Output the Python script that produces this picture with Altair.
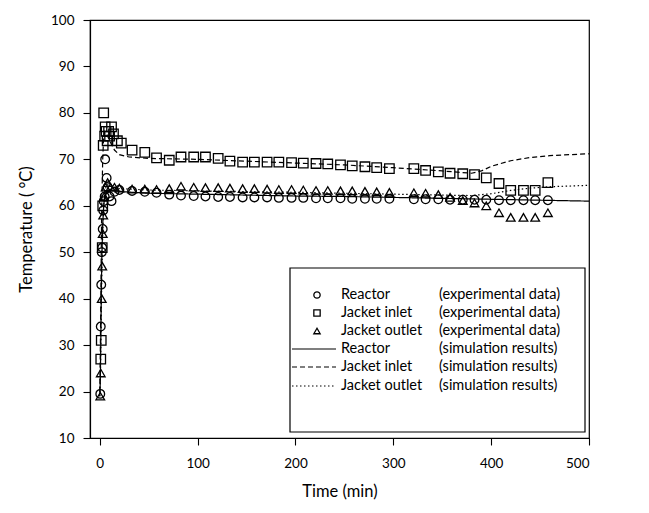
import altair as alt
import pandas as pd

# ---------------- data ----------------
# Reactor (experimental data) - circles
reactor_t = [0.5, 1, 1.5, 2, 2.5, 3, 3.5, 4, 5, 5.5, 7, 8, 10, 12, 15, 20, 33, 46, 58, 71, 83,
             96, 108, 121, 133, 146, 158, 171, 183, 196, 208, 221, 233, 246, 258, 271, 283,
             296, 321, 333, 346, 358, 371, 383, 395, 408, 420, 433, 445, 458]
reactor_T = [19.5, 34, 43, 50, 51, 55, 59, 61, 62, 70, 66, 64, 62, 61, 63, 63.4, 63.2, 63, 62.8,
             62.4, 62.2, 62.1, 62.0, 61.9, 61.9, 61.8, 61.8, 61.8, 61.7, 61.7, 61.7, 61.6, 61.6,
             61.6, 61.5, 61.5, 61.5, 61.5, 61.4, 61.4, 61.4, 61.3, 61.3, 61.3, 61.3, 61.2,
             61.2, 61.2, 61.2, 61.2]

# Jacket inlet (experimental data) - squares
inlet_t = [1, 1.5, 2.5, 3, 3.5, 4, 5, 5.5, 6.5, 7.5, 9, 10, 12, 14, 18, 22, 33, 46, 58, 71, 83,
           96, 108, 121, 133, 146, 158, 171, 183, 196, 208, 221, 233, 246, 258, 271, 283,
           296, 321, 333, 346, 358, 371, 383, 395, 408, 420, 433, 445, 458]
inlet_T = [27, 31, 51, 60, 73, 80, 75, 77, 76, 74, 76, 75, 77, 75.5, 74, 73.5, 72, 71.5, 70.3,
           69.8, 70.5, 70.5, 70.5, 70.2, 69.6, 69.4, 69.4, 69.4, 69.4, 69.3, 69.2, 69.1, 69,
           68.8, 68.6, 68.4, 68.2, 68, 68, 67.6, 67.3, 67, 66.9, 66.7, 66, 64.8, 63.3, 63.3,
           63.3, 65]

# Jacket outlet (experimental data) - triangles
outlet_t = [0.5, 1, 2, 2.5, 3, 3.5, 4.5, 6, 8, 11, 15, 20, 33, 46, 58, 71, 83, 96, 108, 121,
            133, 146, 158, 171, 183, 196, 208, 221, 233, 246, 258, 271, 283, 296, 321, 333,
            346, 358, 371, 383, 395, 408, 420, 433, 445, 458]
outlet_T = [19, 24, 40, 47, 54, 58, 62, 64, 65, 64, 64, 63.8, 63.6, 63.6, 63.5, 63.7, 64.2, 64,
            63.9, 63.9, 63.8, 63.7, 63.7, 63.6, 63.5, 63.5, 63.4, 63.3, 63.3, 63.2, 63.2, 63.1,
            63.0, 62.9, 62.8, 62.7, 62.4, 61.8, 61.1, 60.6, 60, 58.5, 57.5, 57.5, 57.5, 58.5]

# Simulation results
sim_reactor_t = [0, 0.5, 1, 1.5, 2, 3, 4, 5, 7, 10, 15, 25, 50, 100, 150, 200, 250, 300, 350,
                 400, 450, 500]
sim_reactor_T = [19, 22, 30, 40, 48, 56, 60, 62, 63.2, 63.5, 63.3, 63, 62.7, 62.5, 62.3, 62.1,
                 62, 61.8, 61.6, 61.4, 61.2, 61]

sim_inlet_t = [0, 0.5, 1, 1.5, 2, 3, 4, 5, 7, 10, 15, 20, 30, 50, 100, 150, 200, 250, 300,
               350, 380, 390, 400, 420, 440, 460, 480, 500]
sim_inlet_T = [20, 28, 38, 50, 60, 70, 75, 76, 75.5, 74, 72, 71, 70.5, 70.2, 70, 69.6, 69.2,
               68.8, 68.2, 67.5, 67, 67.5, 68.5, 69.7, 70.4, 70.8, 71, 71.2]

sim_outlet_t = [0, 0.5, 1, 1.5, 2, 3, 4, 5, 7, 10, 15, 20, 50, 100, 200, 300, 350, 380, 400,
                420, 440, 460, 500]
sim_outlet_T = [19, 22, 28, 36, 44, 54, 60, 63, 64.5, 64.5, 64, 63.7, 63.4, 63.2, 62.9, 62.5,
                62.3, 62.2, 62.6, 63.3, 63.8, 64.1, 64.4]

x_ticks = [0, 100, 200, 300, 400, 500]
y_ticks = [10, 20, 30, 40, 50, 60, 70, 80, 90, 100]

legend_names = ["Reactor", "Jacket inlet", "Jacket outlet",
                "Reactor", "Jacket inlet", "Jacket outlet"]
legend_descs = ["(experimental data)", "(experimental data)", "(experimental data)",
                "(simulation results)", "(simulation results)", "(simulation results)"]
legend_shapes = ["circle", "square", "triangle-up"]
legend_dashes = [[1, 0], [5, 3], [1.5, 2.5]]

# ---------------- chart ----------------
FONT = "Lato"
W, H = 499, 418

xs = alt.Scale(domain=[-10, 500], nice=False, zero=False)
ys = alt.Scale(domain=[10, 100], nice=False, zero=False)

X = alt.X("t:Q", scale=xs,
          axis=alt.Axis(values=x_ticks, title="Time (min)", format="d",
                        labelPadding=11, titlePadding=14))
Y = alt.Y("T:Q", scale=ys,
          axis=alt.Axis(values=y_ticks, title="Temperature ( °C)", format="d",
                        labelPadding=9, titlePadding=16))


def df(t, T):
    return pd.DataFrame({"t": t, "T": T})


layers = []
for t, T, dash in [(sim_reactor_t, sim_reactor_T, legend_dashes[0]),
                   (sim_inlet_t, sim_inlet_T, legend_dashes[1]),
                   (sim_outlet_t, sim_outlet_T, legend_dashes[2])]:
    layers.append(alt.Chart(df(t, T)).mark_line(color="black", strokeWidth=1.2,
                                                strokeDash=dash).encode(x=X, y=Y))

for t, T, shp, size in [(reactor_t, reactor_T, "circle", 75),
                        (inlet_t, inlet_T, "square", 90),
                        (outlet_t, outlet_T, "triangle-up", 75)]:
    layers.append(alt.Chart(df(t, T)).mark_point(shape=shp, filled=False, color="black",
                                                 size=size, strokeWidth=1.3,
                                                 opacity=1).encode(x=X, y=Y))

# ---- legend box (pixel layout inside plot area) ----
dummy = pd.DataFrame({"k": [0]})
L, R, TOP, BOT = 200, 495, 248, 412
row_y = [275, 293, 311, 329, 347, 366]
layers.append(alt.Chart(dummy).mark_rect(fill="white", stroke="black", strokeWidth=1.2).encode(
    x=alt.value(L), x2=alt.value(R), y=alt.value(TOP), y2=alt.value(BOT)))

for i in range(3):
    layers.append(alt.Chart(dummy).mark_point(shape=legend_shapes[i], filled=False,
                                              color="black", size=40, strokeWidth=1.3,
                                              opacity=1).encode(
        x=alt.value(227), y=alt.value(row_y[i])))
for i in range(3):
    layers.append(alt.Chart(dummy).mark_rule(color="black", strokeWidth=1.1,
                                             strokeDash=legend_dashes[i]).encode(
        x=alt.value(L + 2), x2=alt.value(246), y=alt.value(row_y[3 + i])))

for i in range(6):
    layers.append(alt.Chart(dummy).mark_text(text=legend_names[i], align="left",
                                             baseline="middle", font=FONT, fontSize=14.5,
                                             color="black").encode(
        x=alt.value(251), y=alt.value(row_y[i])))
    layers.append(alt.Chart(dummy).mark_text(text=legend_descs[i], align="left",
                                             baseline="middle", font=FONT, fontSize=14.5,
                                             color="black").encode(
        x=alt.value(349), y=alt.value(row_y[i])))

chart = alt.layer(*layers).properties(
    width=W, height=H,
    padding={"left": 82, "top": 12, "right": 52, "bottom": 67},
    autosize=alt.AutoSizeParams(type="none"),
).configure_view(
    stroke="black", strokeWidth=1.2
).configure_axis(
    grid=False, domainColor="black", tickColor="black", labelColor="black",
    titleColor="black", labelFont=FONT, titleFont=FONT, labelFontSize=13.5,
    titleFontSize=16.5, titleFontWeight="normal", tickSize=7, domainWidth=1.2,
    tickWidth=1.1
)

chart.save("out.html", embed_options={"renderer": "svg", "actions": False})
